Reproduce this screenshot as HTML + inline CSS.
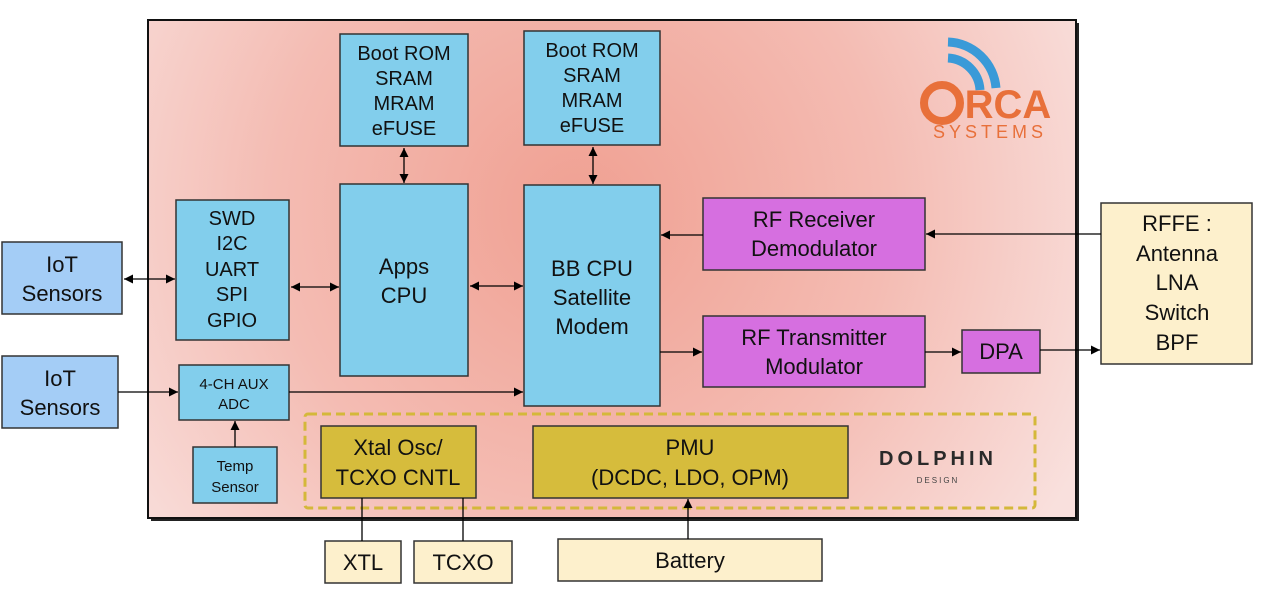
<!DOCTYPE html>
<html><head><meta charset="utf-8"><style>
html,body{margin:0;padding:0;background:#fff;}
svg{display:block;}
text{font-family:"Liberation Sans",Arial,sans-serif;fill:#111;text-anchor:middle;}
</style></head><body>
<svg width="1264" height="598" viewBox="0 0 1264 598" xmlns="http://www.w3.org/2000/svg">
<defs>
<radialGradient id="bg" cx="580" cy="210" r="560" gradientUnits="userSpaceOnUse">
<stop offset="0" stop-color="#f0a092"/>
<stop offset="0.55" stop-color="#f4bcb3"/>
<stop offset="1" stop-color="#f9e0dd"/>
</radialGradient>
<marker id="ah" viewBox="0 0 10 10" refX="10" refY="5" markerWidth="9" markerHeight="9" orient="auto-start-reverse" markerUnits="userSpaceOnUse">
<path d="M0,0 L10,5 L0,10 z" fill="#000"/>
</marker>
</defs>
<rect x="151" y="23" width="928" height="498" fill="#222"/>
<rect x="148" y="20" width="928" height="498" fill="url(#bg)" stroke="#111" stroke-width="2"/>

<g fill="none" stroke="#3a9ad8" stroke-width="9">
<path d="M948,42 A50,50 0 0 1 996,88"/>
<path d="M948,58 A34,34 0 0 1 980,90"/>
</g>
<circle cx="942" cy="103" r="18" fill="none" stroke="#e8703a" stroke-width="8"/>
<text x="1008" y="118" style="font-size:40px;fill:#e8703a;font-weight:bold">RCA</text>
<text x="990" y="138" style="font-size:18px;fill:#e8703a;letter-spacing:4px">SYSTEMS</text>

<rect x="305" y="414" width="730" height="94" fill="none" stroke="#d4b83a" stroke-width="3" stroke-dasharray="9,5" rx="3"/>

<g stroke="#333" stroke-width="1.5">
<rect x="340" y="34" width="128" height="112" fill="#82ceec"/>
<rect x="524" y="31" width="136" height="114" fill="#82ceec"/>
<rect x="340" y="184" width="128" height="192" fill="#82ceec"/>
<rect x="524" y="185" width="136" height="221" fill="#82ceec"/>
<rect x="176" y="200" width="113" height="140" fill="#82ceec"/>
<rect x="179" y="365" width="110" height="55" fill="#82ceec"/>
<rect x="193" y="447" width="84" height="56" fill="#82ceec"/>
<rect x="703" y="198" width="222" height="72" fill="#d66fe0"/>
<rect x="703" y="316" width="222" height="71" fill="#d66fe0"/>
<rect x="962" y="330" width="78" height="43" fill="#d66fe0"/>
<rect x="1101" y="203" width="151" height="161" fill="#fdf0cc"/>
<rect x="2" y="242" width="120" height="72" fill="#a4cdf6"/>
<rect x="2" y="356" width="116" height="72" fill="#a4cdf6"/>
<rect x="321" y="426" width="155" height="72" fill="#d6bc3c"/>
<rect x="533" y="426" width="315" height="72" fill="#d6bc3c"/>
<rect x="325" y="541" width="76" height="42" fill="#fdf0cc"/>
<rect x="414" y="541" width="98" height="42" fill="#fdf0cc"/>
<rect x="558" y="539" width="264" height="42" fill="#fdf0cc"/>
</g>

<g stroke="#000" stroke-width="1.3" fill="none">
<line x1="124" y1="279" x2="175" y2="279" marker-start="url(#ah)" marker-end="url(#ah)"/>
<line x1="291" y1="287" x2="339" y2="287" marker-start="url(#ah)" marker-end="url(#ah)"/>
<line x1="470" y1="286" x2="523" y2="286" marker-start="url(#ah)" marker-end="url(#ah)"/>
<line x1="404" y1="148" x2="404" y2="183" marker-start="url(#ah)" marker-end="url(#ah)"/>
<line x1="593" y1="147" x2="593" y2="184" marker-start="url(#ah)" marker-end="url(#ah)"/>
<line x1="703" y1="235" x2="661" y2="235" marker-end="url(#ah)"/>
<line x1="1101" y1="234" x2="926" y2="234" marker-end="url(#ah)"/>
<line x1="660" y1="352" x2="702" y2="352" marker-end="url(#ah)"/>
<line x1="925" y1="352" x2="961" y2="352" marker-end="url(#ah)"/>
<line x1="1040" y1="350" x2="1100" y2="350" marker-end="url(#ah)"/>
<line x1="118" y1="392" x2="178" y2="392" marker-end="url(#ah)"/>
<line x1="289" y1="392" x2="523" y2="392" marker-end="url(#ah)"/>
<line x1="235" y1="447" x2="235" y2="421" marker-end="url(#ah)"/>
<line x1="362" y1="498" x2="362" y2="541"/>
<line x1="463" y1="498" x2="463" y2="541"/>
<line x1="688" y1="539" x2="688" y2="499" marker-end="url(#ah)"/>
</g>

<g style="font-size:20px">
<text x="404" y="60">Boot ROM</text><text x="404" y="85">SRAM</text><text x="404" y="110">MRAM</text><text x="404" y="135">eFUSE</text>
<text x="592" y="57">Boot ROM</text><text x="592" y="82">SRAM</text><text x="592" y="107">MRAM</text><text x="592" y="132">eFUSE</text>
<text x="404" y="274" style="font-size:22px">Apps</text><text x="404" y="303" style="font-size:22px">CPU</text>
<text x="592" y="276" style="font-size:22px">BB CPU</text><text x="592" y="305" style="font-size:22px">Satellite</text><text x="592" y="334" style="font-size:22px">Modem</text>
<text x="232" y="225">SWD</text><text x="232" y="250">I2C</text><text x="232" y="276">UART</text><text x="232" y="301">SPI</text><text x="232" y="327">GPIO</text>
<text x="234" y="389" style="font-size:15px">4-CH AUX</text><text x="234" y="409" style="font-size:15px">ADC</text>
<text x="235" y="471" style="font-size:15px">Temp</text><text x="235" y="492" style="font-size:15px">Sensor</text>
<text x="814" y="227" style="font-size:22px">RF Receiver</text><text x="814" y="256" style="font-size:22px">Demodulator</text>
<text x="814" y="345" style="font-size:22px">RF Transmitter</text><text x="814" y="374" style="font-size:22px">Modulator</text>
<text x="1001" y="359" style="font-size:22px">DPA</text>
<text x="1177" y="231" style="font-size:22px">RFFE :</text><text x="1177" y="261" style="font-size:22px">Antenna</text><text x="1177" y="290" style="font-size:22px">LNA</text><text x="1177" y="320" style="font-size:22px">Switch</text><text x="1177" y="350" style="font-size:22px">BPF</text>
<text x="62" y="272" style="font-size:22px">IoT</text><text x="62" y="301" style="font-size:22px">Sensors</text>
<text x="60" y="386" style="font-size:22px">IoT</text><text x="60" y="415" style="font-size:22px">Sensors</text>
<text x="398" y="455" style="font-size:22px">Xtal Osc/</text><text x="398" y="485" style="font-size:22px">TCXO CNTL</text>
<text x="690" y="455" style="font-size:22px">PMU</text><text x="690" y="485" style="font-size:22px">(DCDC, LDO, OPM)</text>
<text x="363" y="570" style="font-size:22px">XTL</text>
<text x="463" y="570" style="font-size:22px">TCXO</text>
<text x="690" y="568" style="font-size:22px">Battery</text>
<text x="938" y="465" style="font-size:20px;fill:#2a2a2a;letter-spacing:4px;font-weight:bold">DOLPHIN</text>
<text x="938" y="483" style="font-size:8px;fill:#444;letter-spacing:2px">DESIGN</text>
</g>
</svg>
</body></html>
